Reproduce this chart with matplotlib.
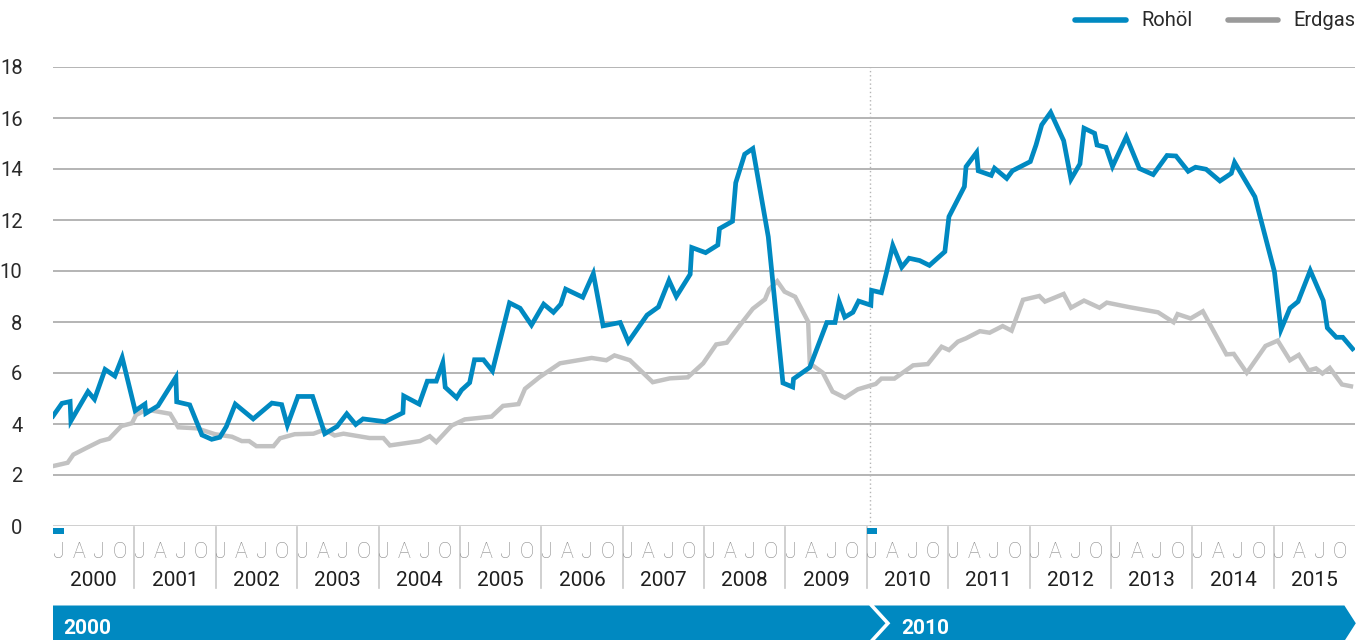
import matplotlib
matplotlib.use("Agg")
import matplotlib.pyplot as plt
from matplotlib.lines import Line2D
from matplotlib.patches import Polygon, Rectangle

plt.rcParams['font.family'] = ['Roboto', 'DejaVu Sans']

# ---------------- data (decimal year, value) ----------------
oil_t = [2000.00, 2000.11, 2000.21, 2000.22, 2000.43, 2000.51, 2000.64, 2000.76, 2000.85,
         2001.01, 2001.13, 2001.14, 2001.29, 2001.51, 2001.52, 2001.68, 2001.83, 2001.95,
         2002.05, 2002.13, 2002.24, 2002.46, 2002.69, 2002.81, 2002.88, 2003.01, 2003.19,
         2003.34, 2003.49, 2003.61, 2003.72, 2003.81, 2004.08, 2004.30, 2004.31, 2004.50,
         2004.60, 2004.71, 2004.79, 2004.82, 2004.96, 2005.02, 2005.12, 2005.18, 2005.29,
         2005.40, 2005.61, 2005.74, 2005.88, 2006.03, 2006.15, 2006.24, 2006.30, 2006.51,
         2006.64, 2006.76, 2006.97, 2007.07, 2007.30, 2007.44, 2007.57, 2007.66, 2007.83,
         2007.85, 2008.02, 2008.17, 2008.19, 2008.35, 2008.39, 2008.50, 2008.60, 2008.79,
         2008.97, 2009.09, 2009.10, 2009.30, 2009.51, 2009.61, 2009.66, 2009.73, 2009.83,
         2009.90, 2010.05, 2010.06, 2010.18, 2010.24, 2010.32, 2010.43, 2010.52, 2010.65,
         2010.77, 2010.96, 2011.01, 2011.20, 2011.22, 2011.35, 2011.37, 2011.53, 2011.57,
         2011.72, 2011.79, 2012.01, 2012.08, 2012.15, 2012.26, 2012.42, 2012.51, 2012.62,
         2012.67, 2012.80, 2012.83, 2012.94, 2013.02, 2013.19, 2013.35, 2013.52, 2013.69,
         2013.80, 2013.95, 2014.04, 2014.17, 2014.34, 2014.48, 2014.52, 2014.77, 2015.01,
         2015.09, 2015.20, 2015.30, 2015.45, 2015.61, 2015.66, 2015.77, 2015.85, 2015.97]
oil_v = [4.31, 4.81, 4.88, 4.12, 5.27, 4.97, 6.14, 5.88, 6.61,
         4.52, 4.78, 4.42, 4.71, 5.83, 4.87, 4.75, 3.57, 3.40,
         3.48, 3.90, 4.78, 4.20, 4.82, 4.76, 3.95, 5.08, 5.08,
         3.62, 3.90, 4.40, 3.98, 4.20, 4.09, 4.44, 5.10, 4.78,
         5.68, 5.68, 6.40, 5.44, 5.03, 5.33, 5.62, 6.52, 6.52,
         6.08, 8.75, 8.54, 7.88, 8.70, 8.38, 8.70, 9.29, 8.97,
         9.90, 7.85, 7.98, 7.22, 8.27, 8.59, 9.63, 9.00, 9.87,
         10.92, 10.72, 11.02, 11.66, 11.95, 13.46, 14.58, 14.80, 11.34,
         5.61, 5.45, 5.77, 6.22, 7.98, 7.98, 8.80, 8.19, 8.38,
         8.82, 8.66, 9.24, 9.15, 9.91, 11.00, 10.15, 10.50, 10.41,
         10.22, 10.76, 12.13, 13.31, 14.09, 14.65, 13.93, 13.75, 14.03,
         13.63, 13.93, 14.29, 14.94, 15.73, 16.22, 15.11, 13.60, 14.20,
         15.60, 15.40, 14.94, 14.85, 14.10, 15.26, 14.02, 13.78, 14.53,
         14.51, 13.91, 14.07, 13.99, 13.53, 13.83, 14.26, 12.91, 9.97,
         7.70, 8.54, 8.80, 10.02, 8.84, 7.77, 7.40, 7.40, 6.95]

gas_t = [2000.00, 2000.18, 2000.25, 2000.41, 2000.58, 2000.69, 2000.84, 2000.97, 2001.02,
         2001.11, 2001.21, 2001.44, 2001.54, 2001.77, 2001.99, 2002.20, 2002.32, 2002.41,
         2002.50, 2002.71, 2002.79, 2002.97, 2003.20, 2003.34, 2003.46, 2003.57, 2003.89,
         2004.06, 2004.14, 2004.51, 2004.63, 2004.71, 2004.90, 2005.06, 2005.39, 2005.53,
         2005.72, 2005.80, 2005.98, 2006.23, 2006.62, 2006.80, 2006.90, 2007.09, 2007.37,
         2007.58, 2007.80, 2007.99, 2008.15, 2008.28, 2008.46, 2008.60, 2008.75, 2008.80,
         2008.90, 2008.99, 2009.12, 2009.28, 2009.30, 2009.46, 2009.58, 2009.73, 2009.89,
         2010.11, 2010.18, 2010.34, 2010.57, 2010.75, 2010.92, 2011.01, 2011.12, 2011.22,
         2011.39, 2011.51, 2011.67, 2011.78, 2011.92, 2012.12, 2012.19, 2012.42, 2012.51,
         2012.67, 2012.86, 2012.95, 2013.23, 2013.58, 2013.77, 2013.82, 2013.98, 2014.13,
         2014.42, 2014.51, 2014.67, 2014.90, 2015.05, 2015.20, 2015.31, 2015.43, 2015.52,
         2015.60, 2015.69, 2015.84, 2015.95]
gas_v = [2.35, 2.48, 2.80, 3.06, 3.33, 3.42, 3.92, 4.03, 4.35,
         4.50, 4.53, 4.40, 3.87, 3.83, 3.60, 3.50, 3.33, 3.33,
         3.13, 3.13, 3.44, 3.60, 3.62, 3.78, 3.55, 3.62, 3.45,
         3.45, 3.16, 3.33, 3.52, 3.29, 3.94, 4.18, 4.29, 4.71,
         4.78, 5.38, 5.84, 6.38, 6.59, 6.50, 6.69, 6.50, 5.64,
         5.79, 5.83, 6.38, 7.12, 7.19, 7.95, 8.52, 8.89, 9.28,
         9.60, 9.19, 8.99, 8.01, 6.38, 6.01, 5.27, 5.03, 5.36,
         5.57, 5.78, 5.78, 6.30, 6.35, 7.03, 6.90, 7.23, 7.36,
         7.64, 7.58, 7.84, 7.66, 8.87, 9.02, 8.80, 9.10, 8.56,
         8.84, 8.56, 8.76, 8.58, 8.38, 7.99, 8.31, 8.14, 8.42,
         6.73, 6.75, 6.01, 7.06, 7.27, 6.50, 6.71, 6.10, 6.18,
         5.98, 6.20, 5.55, 5.48]

series_names = ["Rohöl", "Erdgas"]
years = list(range(2000, 2016))
quarter_labels = ["J", "A", "J", "O"]
y_ticks = [0, 2, 4, 6, 8, 10, 12, 14, 16, 18]
decade_labels = ["2000", "2010"]

# ---------------- style ----------------
BLUE = "#0089c1"
GAS = "#c2c2c2"
GAS_LEG = "#9a9a9a"
GRID = "#a8a8a8"
DARK = "#1f1f1f"
MONTH = "#8c8c8c"

W, H = 1358, 640
fig = plt.figure(figsize=(W / 100, H / 100), dpi=100)
L, R, T, B = 53, 1355, 67, 526
ax = fig.add_axes([L / W, 1 - B / H, (R - L) / W, (B - T) / H])
ax.set_xlim(2000, 2016)
ax.set_ylim(0, 18)

for s in ax.spines.values():
    s.set_visible(False)
ax.set_xticks([])
ax.set_yticks(y_ticks)
ax.tick_params(axis='y', length=0, pad=22, labelsize=14.5, labelcolor="#2a2a2a")

for yv in y_ticks[1:]:
    ax.axhline(yv, color=GRID, lw=1.2, zorder=1)
ax.axhline(0, color="#cfcfcf", lw=1.4, zorder=1)

# dotted divider at 2010
ax.plot([2010.04, 2010.04], [0, 18], color="#b5b5b5", lw=1.0, ls=(0, (1, 2)), zorder=1)

ax.plot(gas_t, gas_v, color=GAS, lw=3.2, solid_joinstyle='miter', zorder=3)
ax.plot(oil_t, oil_v, color=BLUE, lw=3.4, solid_joinstyle='miter', zorder=4)

# ---------------- bottom axis ----------------
tr = ax.get_xaxis_transform()
ph = (B - T)


def yfr(py):
    return (B - py) / ph


for y in years:
    for q, ql in enumerate(quarter_labels):
        ax.text(y + q * 0.25 + 0.067, yfr(552), ql, transform=tr, ha='center', va='center',
                fontsize=15.5, color=MONTH, fontweight='light', clip_on=False)
    ax.text(y + 0.5, yfr(581), str(y), transform=tr, ha='center', va='center',
            fontsize=15, color=DARK, clip_on=False)
    if y > 2000:
        ax.add_line(Line2D([y, y], [yfr(527), yfr(588)], transform=tr, color="#c8c8c8",
                           lw=1.2, clip_on=False))

for d in (2000, 2010):
    ax.add_patch(Rectangle((d + 0.005, yfr(533.5)), 0.125, yfr(527.5) - yfr(533.5), transform=tr,
                           color=BLUE, lw=0, clip_on=False, zorder=5))

# ---------------- banner ----------------
bt, bb = yfr(605.5), yfr(641)
bm = (bt + bb) / 2
c0 = 2010.03
cdx = 0.20
gap = 0.06
end = 2015.87
edx = 0.14
poly1 = [(2000, bt), (c0, bt), (c0 + cdx, bm), (c0, bb), (2000, bb)]
poly2 = [(c0 + gap, bt), (end, bt), (end + edx, bm), (end, bb), (c0 + gap, bb), (c0 + gap + cdx, bm)]
for p in (poly1, poly2):
    ax.add_patch(Polygon(p, closed=True, transform=tr, facecolor=BLUE, edgecolor='none',
                         clip_on=False))
ax.text(2000.12, yfr(628), decade_labels[0], transform=tr, ha='left', va='center', fontsize=15,
        color='white', fontweight='bold', clip_on=False)
ax.text(2010.43, yfr(628), decade_labels[1], transform=tr, ha='left', va='center', fontsize=15,
        color='white', fontweight='bold', clip_on=False)

# ---------------- legend ----------------
ft = fig.transFigure
ly = 1 - 20 / H
fig.add_artist(Line2D([1075 / W, 1126 / W], [ly, ly], transform=ft, color=BLUE, lw=4,
                      solid_capstyle='round'))
fig.text(1141 / W, ly, series_names[0], ha='left', va='center', fontsize=14.5, color="#2a2a2a")
fig.add_artist(Line2D([1228 / W, 1278 / W], [ly, ly], transform=ft, color=GAS_LEG, lw=4,
                      solid_capstyle='round'))
fig.text(1293 / W, ly, series_names[1], ha='left', va='center', fontsize=14.5, color="#2a2a2a")

fig.savefig("out.png", dpi=100)
